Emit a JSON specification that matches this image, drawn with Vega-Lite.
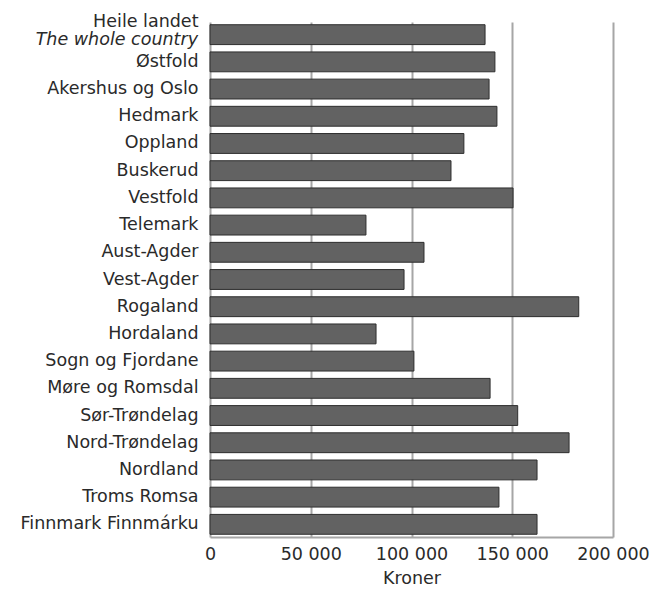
{
  "$schema": "https://vega.github.io/schema/vega-lite/v6.json",
  "width": 403,
  "height": 515,
  "autosize": {"type": "none"},
  "padding": {"left": 210, "top": 22, "right": 41, "bottom": 54},
  "background": "white",
  "config": {
    "view": {"stroke": null},
    "font": "DejaVu Sans",
    "axis": {"labelFont": "DejaVu Sans", "titleFont": "DejaVu Sans", "labelColor": "#2a2a2a", "titleColor": "#2a2a2a"}
  },
  "data": {
    "values": [
      {"region": "Heile landet", "sub": "The whole country", "kroner": 136500},
      {"region": "Østfold", "kroner": 141400},
      {"region": "Akershus og Oslo", "kroner": 138500},
      {"region": "Hedmark", "kroner": 142400},
      {"region": "Oppland", "kroner": 126000},
      {"region": "Buskerud", "kroner": 119600},
      {"region": "Vestfold", "kroner": 150400},
      {"region": "Telemark", "kroner": 77400},
      {"region": "Aust-Agder", "kroner": 106200},
      {"region": "Vest-Agder", "kroner": 96300},
      {"region": "Rogaland", "kroner": 183000},
      {"region": "Hordaland", "kroner": 82400},
      {"region": "Sogn og Fjordane", "kroner": 101200},
      {"region": "Møre og Romsdal", "kroner": 139000},
      {"region": "Sør-Trøndelag", "kroner": 152700},
      {"region": "Nord-Trøndelag", "kroner": 178200},
      {"region": "Nordland", "kroner": 162300},
      {"region": "Troms Romsa", "kroner": 143400},
      {"region": "Finnmark Finnmárku", "kroner": 162300}
    ]
  },
  "encoding": {
    "y": {
      "field": "region",
      "type": "nominal",
      "sort": null,
      "scale": {"paddingInner": 0.27, "paddingOuter": 0.1},
      "axis": {
        "title": null,
        "domain": false,
        "ticks": false,
        "grid": false,
        "labelFontSize": 17.5,
        "labelPadding": 12,
        "labelLimit": 300,
        "labelOffset": {"condition": {"test": "datum.value == 'Heile landet'", "value": -13}, "value": 0}
      }
    },
    "x": {
      "field": "kroner",
      "type": "quantitative",
      "scale": {"domain": [0, 200000], "nice": false},
      "axis": {
        "title": "Kroner",
        "titleFontSize": 17.5,
        "titleFontWeight": "normal",
        "titlePadding": 7,
        "values": [0, 50000, 100000, 150000, 200000],
        "labelExpr": "replace(format(datum.value, ','), ',', ' ')",
        "labelFontSize": 17.5,
        "labelPadding": 8,
        "labelOverlap": false,
        "labelFlush": false,
        "ticks": false,
        "grid": true,
        "gridColor": "#a6a6a6",
        "gridWidth": 2,
        "domain": true,
        "domainColor": "#a6a6a6",
        "domainWidth": 2
      }
    }
  },
  "layer": [
    {
      "mark": {"type": "bar", "color": "#626262", "stroke": "#2e2e2e", "strokeWidth": 1}
    },
    {
      "transform": [{"filter": "isValid(datum.sub)"}],
      "mark": {"type": "text", "align": "right", "baseline": "middle", "dx": -12, "dy": 5, "fontSize": 17.5, "fontStyle": "italic", "font": "DejaVu Sans", "color": "#2a2a2a"},
      "encoding": {
        "x": {"datum": 0, "type": "quantitative"},
        "text": {"field": "sub"}
      }
    }
  ]
}
